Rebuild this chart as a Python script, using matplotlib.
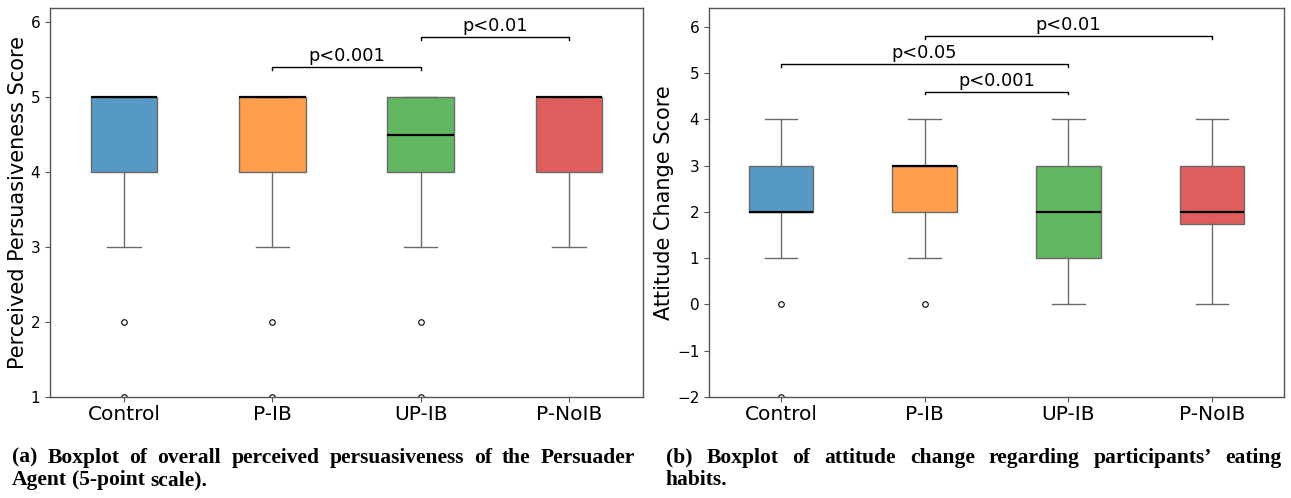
import matplotlib
matplotlib.use('Agg')
import matplotlib.pyplot as plt
from matplotlib.colors import to_rgba

# ---------------- data ----------------
groups = ['Control', 'P-IB', 'UP-IB', 'P-NoIB']
box_colors = ['#1f77b4', '#ff7f0e', '#2ca02c', '#d62728']

# (a) perceived persuasiveness
pers_q1 = [4, 4, 4, 4]
pers_med = [5, 5, 4.5, 5]
pers_q3 = [5, 5, 5, 5]
pers_wlo = [3, 3, 3, 3]
pers_whi = [5, 5, 5, 5]
pers_fliers = [[2, 1], [2, 1], [2, 1], []]
pers_sig_from = [2, 3]
pers_sig_to = [3, 4]
pers_sig_y = [5.4, 5.8]
pers_sig_label = ['p<0.001', 'p<0.01']

# (b) attitude change
att_q1 = [2, 2, 1, 1.75]
att_med = [2, 3, 2, 2]
att_q3 = [3, 3, 3, 3]
att_wlo = [1, 1, 0, 0]
att_whi = [4, 4, 4, 4]
att_fliers = [[0, -2], [0], [], []]
att_sig_from = [2, 1, 2]
att_sig_to = [4, 3, 3]
att_sig_y = [5.8, 5.2, 4.6]
att_sig_label = ['p<0.01', 'p<0.05', 'p<0.001']

caption_a = ["(a) Boxplot of overall perceived persuasiveness of the Persuader",
             "Agent (5-point scale)."]
caption_b = ["(b) Boxplot of attitude change regarding participants\u2019 eating",
             "habits."]

W, H = 1291, 498
fig = plt.figure(figsize=(W / 100, H / 100), dpi=100)
plt.rcParams['font.family'] = ['DejaVu Sans']

ax1 = fig.add_axes([50 / W, 1 - 397 / H, (643 - 50) / W, (397 - 7.5) / H])
ax2 = fig.add_axes([709 / W, 1 - 397 / H, (1284 - 709) / W, (397 - 7.5) / H])

spine_col = '#555555'


def draw(ax, q1, med, q3, wlo, whi, fliers, sfrom, sto, sy, slab, ylim, yticks, ylabel, h):
    stats = []
    for i in range(len(groups)):
        stats.append(dict(q1=q1[i], med=med[i], q3=q3[i], whislo=wlo[i], whishi=whi[i],
                          fliers=fliers[i], label=groups[i]))
    bp = ax.bxp(stats, positions=range(1, len(groups) + 1), widths=0.45, patch_artist=True,
                boxprops=dict(edgecolor='#6a6a6a', linewidth=1.0),
                medianprops=dict(color='black', linewidth=1.6),
                whiskerprops=dict(color='#6a6a6a', linewidth=1.0),
                capprops=dict(color='#6a6a6a', linewidth=1.0),
                flierprops=dict(marker='o', markersize=4, markerfacecolor='white',
                                markeredgecolor='black', markeredgewidth=0.8))
    for patch, c in zip(bp['boxes'], box_colors):
        patch.set_facecolor(to_rgba(c, 0.75))
    for a, b, y, lab in zip(sfrom, sto, sy, slab):
        ax.plot([a, a, b, b], [y - h, y, y, y - h], color='black', linewidth=1.0)
        ax.annotate(lab, xy=((a + b) / 2, y), xytext=(0, 1.5), textcoords='offset points',
                    ha='center', va='bottom', fontsize=12.8)
    ax.set_xlim(0.5, len(groups) + 0.5)
    ax.set_ylim(*ylim)
    ax.set_yticks(yticks)
    ax.set_xticks(range(1, len(groups) + 1))
    ax.set_xticklabels(groups, fontsize=14.5)
    ax.tick_params(axis='y', labelsize=11, colors='black', length=3.5, color=spine_col)
    ax.tick_params(axis='x', length=3.5, color=spine_col, pad=2)
    ax.set_ylabel(ylabel, fontsize=15, labelpad=2)
    for s in ax.spines.values():
        s.set_color(spine_col)
        s.set_linewidth(1.0)


draw(ax1, pers_q1, pers_med, pers_q3, pers_wlo, pers_whi, pers_fliers,
     pers_sig_from, pers_sig_to, pers_sig_y, pers_sig_label,
     (1, 6.2), range(1, 7), 'Perceived Persuasiveness Score', 0.04)
draw(ax2, att_q1, att_med, att_q3, att_wlo, att_whi, att_fliers,
     att_sig_from, att_sig_to, att_sig_y, att_sig_label,
     (-2, 6.42), range(-2, 7), 'Attitude Change Score', 0.06)

# ---------------- captions (justified first line) ----------------
cap_font = dict(family='Liberation Serif', weight='bold', fontsize=15.5, color='black')
renderer = fig.canvas.get_renderer()


def justified_line(text, x0, x1, y, justify):
    words = text.split(' ')
    objs = [fig.text(0, 1 - y / H, w, va='baseline', ha='left', **cap_font) for w in words]
    widths = [o.get_window_extent(renderer).width for o in objs]
    if justify and len(words) > 1:
        gap = (x1 - x0 - sum(widths)) / (len(words) - 1)
    else:
        sp = fig.text(0, 0, 'a a', **cap_font)
        sa = fig.text(0, 0, 'aa', **cap_font)
        gap = sp.get_window_extent(renderer).width - sa.get_window_extent(renderer).width
        sp.remove(); sa.remove()
    x = x0
    for o, wdt in zip(objs, widths):
        o.set_x(x / W)
        x += wdt + gap


justified_line(caption_a[0], 12, 635, 462.5, True)
justified_line(caption_a[1], 12, 635, 485, False)
justified_line(caption_b[0], 666, 1282, 462.5, True)
justified_line(caption_b[1], 666, 1282, 485, False)

fig.savefig('out.png', dpi=100)
